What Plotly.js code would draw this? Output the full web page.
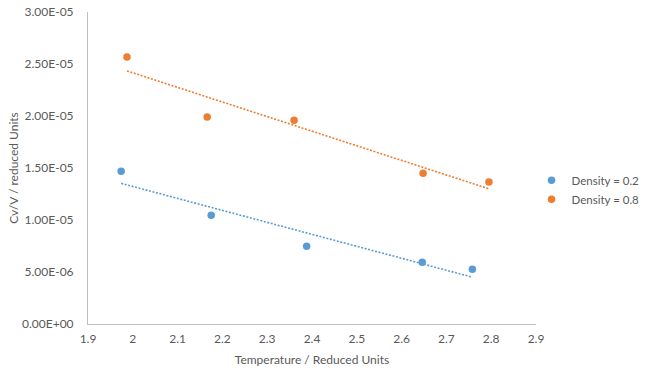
<!DOCTYPE html>
<html>
<head>
<meta charset="utf-8">
<script src="https://cdn.plot.ly/plotly-3.0.1.min.js"></script>
<style>html,body{margin:0;padding:0;background:#fff;}#chart{width:647px;height:374px;}</style>
</head>
<body>
<div id="chart"></div>
<script>
const seriesNames = ["Density = 0.2", "Density = 0.8"];
const tempLow = [1.974, 2.175, 2.388, 2.646, 2.758];
const cvLow = [1.468e-5, 1.045e-5, 7.47e-6, 5.93e-6, 5.26e-6];
const tempHigh = [1.987, 2.166, 2.360, 2.648, 2.795];
const cvHigh = [2.567e-5, 1.990e-5, 1.960e-5, 1.450e-5, 1.365e-5];
const yTickVals = [0, 5e-6, 1e-5, 1.5e-5, 2e-5, 2.5e-5, 3e-5];
const yTickText = ["0.00E+00", "5.00E-06", "1.00E-05", "1.50E-05", "2.00E-05", "2.50E-05", "3.00E-05"];
const xTickVals = [1.9, 2, 2.1, 2.2, 2.3, 2.4, 2.5, 2.6, 2.7, 2.8, 2.9];
const xTickText = ["1.9", "2", "2.1", "2.2", "2.3", "2.4", "2.5", "2.6", "2.7", "2.8", "2.9"];
const colors = ["#5B9BD5", "#ED7D31"];

function linFit(xs, ys) {
  const n = xs.length;
  const mx = xs.reduce((a, b) => a + b, 0) / n;
  const my = ys.reduce((a, b) => a + b, 0) / n;
  let sxy = 0, sxx = 0;
  for (let i = 0; i < n; i++) { sxy += (xs[i] - mx) * (ys[i] - my); sxx += (xs[i] - mx) ** 2; }
  const m = sxy / sxx, b = my - m * mx;
  const x0 = Math.min(...xs), x1 = Math.max(...xs);
  return { x: [x0, x1], y: [m * x0 + b, m * x1 + b] };
}

const sets = [[tempLow, cvLow], [tempHigh, cvHigh]];
const traces = [];
sets.forEach((s, i) => {
  const f = linFit(s[0], s[1]);
  traces.push({ x: f.x, y: f.y, mode: 'lines', line: { color: colors[i], width: 1.6, dash: '2px,1.6px' }, showlegend: false, hoverinfo: 'skip' });
});
sets.forEach((s, i) => {
  traces.push({ x: s[0], y: s[1], mode: 'markers', name: seriesNames[i], marker: { color: colors[i], size: 7.5 } });
});

const font = { family: 'Lato, "Open Sans", sans-serif', size: 12, color: '#595959' };
const legendFont = { family: 'Lato, "Open Sans", sans-serif', size: 11.5, color: '#595959' };
const layout = {
  width: 647, height: 374,
  margin: { l: 88, r: 111, t: 12, b: 50, autoexpand: false },
  paper_bgcolor: '#fff', plot_bgcolor: '#fff',
  font: font,
  showlegend: true,
  legend: { x: 0.99, xanchor: 'left', y: 0.43, yanchor: 'middle', font: legendFont, tracegroupgap: 4, itemwidth: 30 },
  xaxis: {
    range: [1.9, 2.9], tickvals: xTickVals, ticktext: xTickText,
    showgrid: false, zeroline: false, showline: true, linecolor: '#BFBFBF', linewidth: 1,
    ticks: '', tickfont: font, ticklabelstandoff: 4, automargin: true,
    title: { text: 'Temperature / Reduced Units', font: font, standoff: 10 }
  },
  yaxis: {
    range: [0, 3e-5], tickvals: yTickVals, ticktext: yTickText,
    showgrid: false, zeroline: false, showline: true, linecolor: '#BFBFBF', linewidth: 1,
    ticks: '', tickfont: font, ticklabelstandoff: 11, automargin: true,
    title: { text: 'Cv/V / reduced Units', font: font, standoff: 0 }
  }
};
Plotly.newPlot('chart', traces, layout, { displayModeBar: false, staticPlot: true });
</script>
</body>
</html>
